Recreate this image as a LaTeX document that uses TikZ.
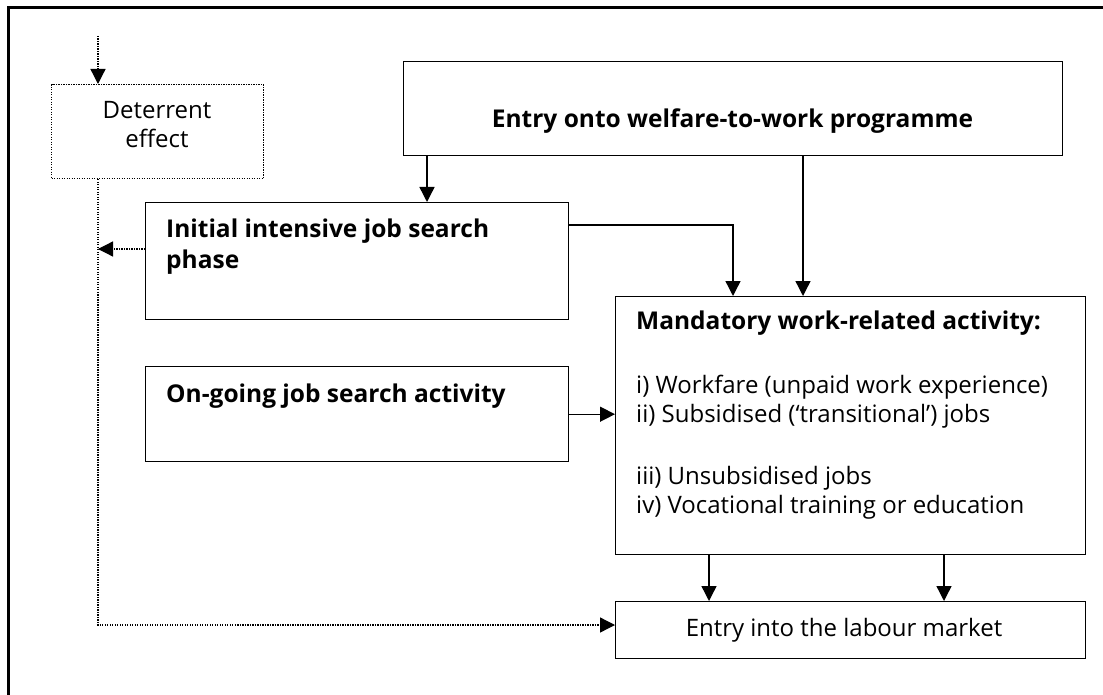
\documentclass[tikz,border=0pt]{standalone}
\usepackage{fontspec}
\setmainfont{Open Sans}
\usetikzlibrary{arrows.meta}
\begin{document}
\begin{tikzpicture}[x=1pt,y=-1pt,
  box/.style={draw, line width=1.4pt, inner sep=0pt, anchor=north west},
  dotbox/.style={draw, line width=1.3pt, dash pattern=on 1.2pt off 1.3pt, inner sep=0pt, anchor=north west},
  arr/.style={line width=1.4pt, -{Triangle[length=15pt,width=15pt]}},
  dotline/.style={line width=1.3pt, dash pattern=on 1.2pt off 1.3pt},
  dotarr/.style={dotline, -{Triangle[length=15pt,width=15pt]}},
  reg/.style={inner sep=0pt, font=\fontsize{24}{29}\selectfont},
  hdr/.style={inner sep=0pt, font=\fontsize{24.5}{32}\selectfont\bfseries},
]
\fill[white] (0,0) rectangle (1103,695);
\useasboundingbox (0,0) rectangle (1103,695);
% outer frame (top and left edges visible)
\draw[line width=3pt] (8,695) -- (8,7.5) -- (1103,7.5);

% boxes
\node[dotbox, minimum width=212pt, minimum height=94pt] (deter) at (51,84) {};
\node[box, minimum width=659pt, minimum height=94pt] (entry) at (403,61) {};
\node[box, minimum width=423pt, minimum height=117pt] (initial) at (145,202) {};
\node[box, minimum width=423pt, minimum height=95pt] (ongoing) at (145,366) {};
\node[box, minimum width=470pt, minimum height=258pt] (mand) at (615,296) {};
\node[box, minimum width=470pt, minimum height=57pt] (labour) at (615,601) {};

% texts
\node[hdr, anchor=base] (entryt) at (732.5,128) {Entry onto welfare-to-work programme};
\node[reg, anchor=base] (detert1) at (157,119) {Deterrent};
\node[reg, anchor=base] (detert2) at (157,148) {effect};
\node[hdr, anchor=base west] (initt1) at (166,237) {Initial intensive job search};
\node[hdr, anchor=base west] (initt2) at (166,269) {phase};
\node[hdr, anchor=base west] (ongt) at (166,402) {On-going job search activity};
\node[hdr, anchor=base west] (mandh) at (636,329) {Mandatory work-related activity:};
\node[reg, anchor=base west] (m1) at (636,393) {i) Workfare (unpaid work experience)};
\node[reg, anchor=base west] (m2) at (636,422) {ii) Subsidised (‘transitional’) jobs};
\node[reg, anchor=base west] (m3) at (636,484) {iii) Unsubsidised jobs};
\node[reg, anchor=base west] (m4) at (636,513) {iv) Vocational training or education};
\node[reg, anchor=base] (labt) at (844,636) {Entry into the labour market};

% helper coordinates
\coordinate (dtop) at (98,36);
\coordinate (dcorner) at (98,625);
\coordinate (iw) at (145,249);
\coordinate (ie) at (568,225);
\coordinate (xa) at (427,0);
\coordinate (xb) at (803,0);
\coordinate (xc) at (733,0);
\coordinate (xd) at (709,0);
\coordinate (xe) at (944,0);

% dotted connectors
\draw[dotarr] (dtop) -- (dtop |- deter.north);
\draw[dotarr] (dtop |- deter.south) -- (dcorner) -- (dcorner -| labour.west);
\draw[dotarr] (iw) -- (iw -| dtop);

% solid connectors
\draw[arr] (xa |- entry.south) -- (xa |- initial.north);
\draw[arr] (xb |- entry.south) -- (xb |- mand.north);
\draw[arr] (ie) -- (ie -| xc) -- (xc |- mand.north);
\draw[arr] (ongoing.east) -- (ongoing.east -| mand.west);
\draw[arr] (xd |- mand.south) -- (xd |- labour.north);
\draw[arr] (xe |- mand.south) -- (xe |- labour.north);
\end{tikzpicture}
\end{document}
